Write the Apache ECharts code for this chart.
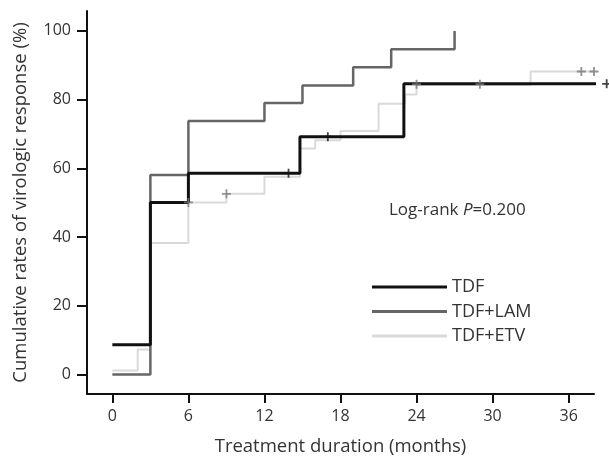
<!DOCTYPE html>
<html>
<head>
<meta charset="utf-8">
<script src="https://cdn.jsdelivr.net/npm/echarts@6/dist/echarts.min.js"></script>
<style>
html, body { margin: 0; padding: 0; background: #fff; }
#chart { width: 609px; height: 461px; }
</style>
</head>
<body>
<div id="chart"></div>
<script>
// Kaplan-Meier style cumulative virologic response
var groupNames = ['TDF', 'TDF+LAM', 'TDF+ETV'];

var tdfMonths = [0, 3, 6, 14.8, 23, 39];
var tdfRates  = [8.7, 50.1, 58.6, 69.2, 84.6, 84.6];

var lamMonths = [0, 3, 6, 12, 15, 19, 22, 27];
var lamRates  = [0, 58.1, 73.8, 79, 84.1, 89.4, 94.7, 100];

var etvMonths = [0, 2, 3, 6, 9, 12, 14.8, 16, 18, 21, 23.1, 24, 33, 38.2];
var etvRates  = [1.2, 7.3, 38.3, 50.1, 52.6, 57.6, 65.8, 68.2, 70.9, 78.8, 81.5, 84.3, 88.2, 88.2];

// censored observations (+)
var tdfCensorMonths = [13.9, 17, 39];
var tdfCensorRates  = [58.6, 69.2, 84.6];
var etvCensorMonths = [6, 9, 24, 29, 37, 38];
var etvCensorRates  = [50.1, 52.6, 84.5, 84.5, 88.2, 88.2];

var xTicks = [0, 6, 12, 18, 24, 30, 36];
var yTicks = [0, 20, 40, 60, 80, 100];

function pairs(xs, ys) {
    var out = [];
    for (var i = 0; i < xs.length; i++) out.push([xs[i], ys[i]]);
    return out;
}

var font = 'Open Sans';
var txt = '#333';
var plus = 'path://M4,0h2v4h4v2h-4v4h-2v-4h-4v-2h4z';

var chart = echarts.init(document.getElementById('chart'));
var option = {
    animation: false,
    backgroundColor: '#fff',
    grid: { left: 87, right: 15, top: 11, bottom: 66 },
    title: {
        left: 384, top: 197,
        text: '{a|Log-rank }{b|P}{a|=0.200}',
        textStyle: {
            fontWeight: 'normal',
            rich: {
                a: { fontFamily: font, fontSize: 17, color: txt, fontWeight: 'normal' },
                b: { fontFamily: font, fontSize: 17, color: txt, fontWeight: 'normal', fontStyle: 'italic' }
            }
        }
    },
    legend: {
        orient: 'vertical',
        left: 372, top: 277, padding: 0,
        icon: 'rect',
        itemWidth: 75, itemHeight: 3, itemGap: 4.5,
        data: groupNames,
        textStyle: { fontFamily: font, fontSize: 18, color: txt, lineHeight: 20 }
    },
    xAxis: {
        type: 'value', min: -2, max: 38,
        name: 'Treatment duration (months)',
        nameLocation: 'middle', nameGap: 43,
        nameTextStyle: { fontFamily: font, fontSize: 18.5, color: txt },
        axisLine: { onZero: false, lineStyle: { color: '#111', width: 2 } },
        axisTick: { customValues: xTicks, length: 9, lineStyle: { color: '#111', width: 2 } },
        axisLabel: { customValues: xTicks, margin: 14, fontFamily: font, fontSize: 16, color: txt },
        splitLine: { show: false }
    },
    yAxis: {
        type: 'value', min: -5.66, max: 105.8,
        name: 'Cumulative rates of virologic response (%)',
        nameLocation: 'middle', nameGap: 57,
        nameTextStyle: { fontFamily: font, fontSize: 18.5, color: txt },
        axisLine: { show: true, onZero: false, lineStyle: { color: '#111', width: 2 } },
        axisTick: { show: true, customValues: yTicks, length: 10, lineStyle: { color: '#111', width: 2 } },
        axisLabel: { customValues: yTicks, margin: 16, fontFamily: font, fontSize: 16, color: txt },
        splitLine: { show: false }
    },
    series: [
        {
            name: 'TDF+ETV', type: 'line', step: 'end', symbol: 'none', clip: false, z: 2,
            lineStyle: { color: '#d9d9d9', width: 2 }, itemStyle: { color: '#d9d9d9' },
            data: pairs(etvMonths, etvRates)
        },
        {
            name: 'TDF+LAM', type: 'line', step: 'end', symbol: 'none', clip: false, z: 3,
            lineStyle: { color: '#666', width: 2.5 }, itemStyle: { color: '#666' },
            data: pairs(lamMonths, lamRates)
        },
        {
            name: 'TDF', type: 'line', step: 'end', symbol: 'none', clip: false, z: 4,
            lineStyle: { color: '#111', width: 3 }, itemStyle: { color: '#111' },
            data: pairs(tdfMonths, tdfRates)
        },
        {
            type: 'scatter', symbol: plus, symbolSize: 9, clip: false, z: 5,
            itemStyle: { color: '#111' },
            data: pairs(tdfCensorMonths, tdfCensorRates)
        },
        {
            type: 'scatter', symbol: plus, symbolSize: 9, clip: false, z: 5,
            itemStyle: { color: '#777' },
            data: pairs(etvCensorMonths, etvCensorRates)
        }
    ]
};
chart.setOption(option);
</script>
</body>
</html>
